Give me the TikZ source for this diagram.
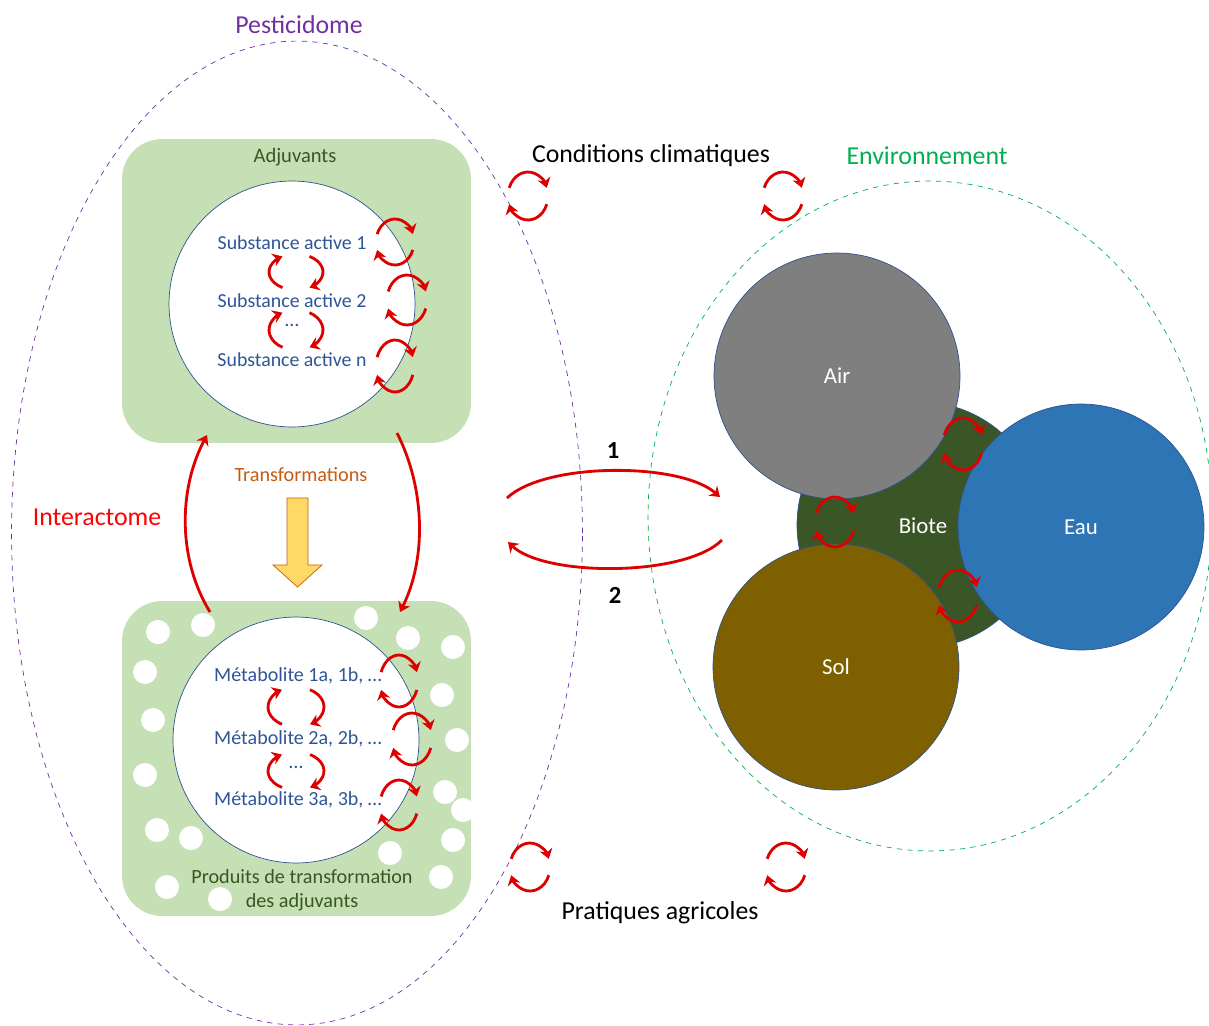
\documentclass[tikz,border=0pt]{standalone}
\usepackage{fontspec}
\setmainfont{Carlito}
\usetikzlibrary{arrows.meta,shapes.geometric,positioning}

\definecolor{boxgreen}{HTML}{C5E0B4}
\definecolor{txtblue}{HTML}{2F5597}
\definecolor{darkgreen}{HTML}{385723}
\definecolor{pestpurple}{HTML}{7030A0}
\definecolor{envgreen}{HTML}{00B050}
\definecolor{orangetxt}{HTML}{C55A11}
\definecolor{arrowyellow}{HTML}{FFD966}
\definecolor{cycred}{HTML}{DD0000}
\definecolor{airgrey}{HTML}{7F7F7F}
\definecolor{biotegreen}{HTML}{3A5627}
\definecolor{eaublue}{HTML}{2E75B6}
\definecolor{solbrown}{HTML}{7F6000}
\definecolor{rimblue}{HTML}{2F528F}

\tikzset{
  cyc/.style={draw=cycred, line width=1.6pt, -{Stealth[length=5.5pt,width=7.5pt]}},
  greenbox/.style={rectangle, fill=boxgreen, rounded corners=0.8cm,
    minimum width=6.98cm},
  innercircle/.style={circle, draw=rimblue, fill=white, minimum size=4.92cm},
  planet/.style={circle, draw=rimblue, minimum size=4.92cm, text=white,
    font=\fontsize{13}{15}\selectfont},
  substxt/.style={text=txtblue, font=\fontsize{11.3}{13}\selectfont, inner sep=0pt},
  metatxt/.style={text=txtblue, font=\fontsize{11.4}{13}\selectfont, inner sep=0pt},
  bigtxt/.style={font=\fontsize{14.7}{17}\selectfont, inner sep=0pt},
  midtxt/.style={font=\fontsize{14.7}{17}\selectfont, inner sep=0pt},
  smalltxt/.style={font=\fontsize{11.5}{13.6}\selectfont, inner sep=0pt},
}

% cycle with gaps left and right
\newcommand{\cycH}[4]{
  \draw[cyc] (#1,#2) ++(160:#3*0.02cm and #4*0.02cm)
    arc[start angle=160, end angle=20, x radius=#3*0.02cm, y radius=#4*0.02cm];
  \draw[cyc] (#1,#2) ++(-20:#3*0.02cm and #4*0.02cm)
    arc[start angle=-20, end angle=-160, x radius=#3*0.02cm, y radius=#4*0.02cm];
}
% cycle with gaps top and bottom
\newcommand{\cycV}[4]{
  \draw[cyc] (#1,#2) ++(240:#3*0.02cm and #4*0.02cm)
    arc[start angle=240, end angle=120, x radius=#3*0.02cm, y radius=#4*0.02cm];
  \draw[cyc] (#1,#2) ++(60:#3*0.02cm and #4*0.02cm)
    arc[start angle=60, end angle=-60, x radius=#3*0.02cm, y radius=#4*0.02cm];
}

\begin{document}
\begin{tikzpicture}[x=0.02cm, y=-0.02cm]
  \useasboundingbox (0,0) rectangle (1209,1025);

  % pesticidome side
  \node[greenbox, minimum height=6.08cm] (adj) at (296.5,291) {};
  \node[greenbox, minimum height=6.30cm] (prod) at (296.5,758.5) {};
  \foreach \px/\py in {158/632, 203/625, 366/618, 408/638, 453/647, 145/672,
      442/695, 153/720, 457/740, 145/775, 445/792, 463/810, 157/830,
      191/838, 453/840, 390/853, 441/877, 167/887, 220/899}
    \fill[white] (\px,\py) circle[radius=0.24cm];

  \node[innercircle] (subst) at (292,304) {};
  \node[innercircle] (meta) at (296,740) {};

  \node[smalltxt, text=darkgreen, font=\fontsize{11.7}{13}\selectfont] (adjl) at (295,157) {Adjuvants};
  \node[substxt] (s1) at (292,243) {Substance active 1};
  \node[substxt] (s2) at (292,301) {Substance active 2};
  \node[substxt] (s3) at (292,325) {…};
  \node[substxt] (sn) at (292,360) {Substance active n};

  \node[metatxt] (m1) at (298,676) {Métabolite 1a, 1b, …};
  \node[metatxt] (m2) at (298,739) {Métabolite 2a, 2b, …};
  \node[metatxt] (m3) at (296,767) {…};
  \node[metatxt] (m4) at (298,800) {Métabolite 3a, 3b, …};
  \node[smalltxt, text=darkgreen, align=center] (prodl) at (302,890) {Produits de transformation\\des adjuvants};

  \node[smalltxt, text=orangetxt] (transl) at (301,475) {Transformations};
  \draw[draw=orangetxt, fill=arrowyellow] (287,498) -- (308,498) -- (308,565)
    -- (322,565) -- (297.5,587) -- (273,565) -- (287,565) -- cycle;

  % cycles inside the boxes
  \cycV{296}{272}{27}{18}
  \cycV{296}{330}{27}{20}
  \cycH{395}{242}{19}{23}
  \cycH{407}{300}{20}{25}
  \cycH{395}{366}{19}{26}
  \cycV{296}{707}{28}{20}
  \cycV{296}{771}{28}{19}
  \cycH{399}{681}{19}{26}
  \cycH{412}{739}{20}{26}
  \cycH{399}{805}{19}{25}

  % interactome arrows
  \coordinate (lbot) at (210,612);
  \coordinate (ltop) at (207,435);
  \coordinate (rtop) at (397,433);
  \coordinate (rbot) at (400,612);
  \draw[cyc] (lbot) .. controls (178,560) and (178,490) .. (ltop);
  \draw[cyc] (rtop) .. controls (426,490) and (426,560) .. (rbot);
  \node[bigtxt, text=red] (inter) at (97,517) {Interactome};

  \node[ellipse, draw=pestpurple, dashed, minimum width=11.42cm,
    minimum height=19.68cm] (pesti) at (297,533) {};
  \node[bigtxt, text=pestpurple] (pestl) at (299,25) {Pesticidome};

  % environnement side
  \node[planet, fill=biotegreen] (biote) at (920,525) {};
  \node[planet, fill=airgrey] (air) at (837,376) {Air};
  \node[planet, fill=eaublue] (eau) at (1081,527) {Eau};
  \node[planet, fill=solbrown] (sol) at (836,667) {Sol};
  \node[text=white, font=\fontsize{13}{15}\selectfont, inner sep=0pt] (biotel) at (923,526) {Biote};
  \cycH{963}{444}{20}{26}
  \cycH{835}{522}{20}{25}
  \cycH{958}{596}{20}{26}

  \node[ellipse, draw=envgreen, dashed, minimum width=11.28cm,
    minimum height=13.4cm] (envi) at (930,516) {};
  \node[bigtxt, text=envgreen] (envl) at (927,156) {Environnement};

  % conditions and practices
  \node[midtxt] (clim) at (651,156) {Conditions climatiques};
  \node[midtxt] (prat) at (660,913) {Pratiques agricoles};
  \cycH{528}{196}{20}{24}
  \cycH{783}{196}{20}{24}
  \cycH{530}{867}{20}{24}
  \cycH{786}{867}{20}{24}

  % exchange between pesticidome and environnement
  \coordinate (tl) at (507,498);
  \coordinate (tr) at (720,497);
  \coordinate (br) at (722,540);
  \coordinate (bl) at (508,542);
  \draw[cyc] (tl) .. controls (545,462) and (680,462) .. (tr);
  \draw[cyc] (br) .. controls (685,577) and (545,577) .. (bl);
  \node[midtxt, font=\bfseries\fontsize{14}{16}\selectfont] (one) at (613,451) {1};
  \node[midtxt, font=\bfseries\fontsize{14}{16}\selectfont] (two) at (615,595) {2};
\end{tikzpicture}
\end{document}
